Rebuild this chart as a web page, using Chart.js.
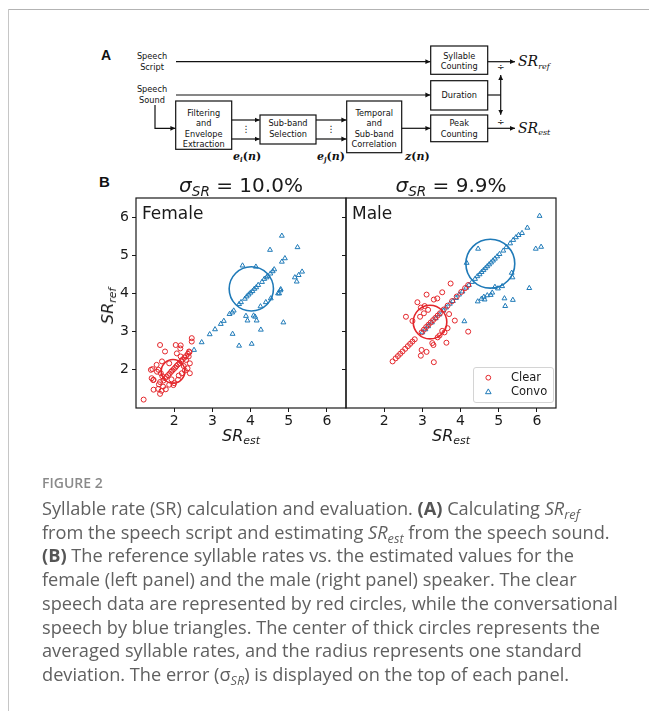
<!DOCTYPE html>
<html>
<head>
<meta charset="utf-8">
<script src="https://cdn.jsdelivr.net/npm/chart.js@4.4.1/dist/chart.umd.min.js"></script>
<style>
  html, body { margin: 0; padding: 0; background: #fff; }
  #page { position: relative; width: 649px; height: 711px; overflow: hidden; background: #fff; }
  canvas { position: absolute; left: 0; top: 0; }
  .rule-top { position: absolute; left: 8px; top: 9px; width: 641px; height: 1px; background: #b3b3b3; }
  .rule-left { position: absolute; left: 8px; top: 9px; width: 1px; height: 702px; background: #c6c6c6; }
  .lbl { position: absolute; white-space: nowrap; color: #1a1a1a; font-family: "DejaVu Sans", sans-serif; transform: translate(-50%, -50%); line-height: 1; }
  .ttl { font-size: 20px; }
  .ttl sub, .axl sub { font-size: 0.68em; vertical-align: baseline; position: relative; top: 0.3em; line-height: 0; }
  .axl { font-size: 16px; }
  .spk { position: absolute; font-family: "DejaVu Sans", sans-serif; font-size: 17px; color: #1a1a1a; line-height: 1; white-space: nowrap; }
  .legend { position: absolute; left: 473px; top: 367px; width: 81px; height: 36px; border: 1px solid #d4d4d4; border-radius: 3px; background: rgba(255,255,255,0.85); box-sizing: border-box; }
  .legtxt { position: absolute; font-family: "DejaVu Sans", sans-serif; font-size: 11.5px; color: #1a1a1a; line-height: 1; white-space: nowrap; transform: translateY(-50%); }
  #fig { position: absolute; left: 42px; top: 474px; font-family: "Open Sans", sans-serif; font-weight: 600; font-size: 14px; line-height: 18px; color: #8a8a8a; }
  #cap { position: absolute; left: 42px; top: 497px; font-family: "Open Sans", sans-serif; font-size: 18.2px; line-height: 23.7px; color: #606060; white-space: nowrap; }
  #cap b { font-weight: 700; color: #555; }
  #cap sub { font-size: 0.7em; vertical-align: baseline; position: relative; top: 0.3em; line-height: 0; }
</style>
</head>
<body>
<div id="page">
  <div class="rule-top"></div>
  <div class="rule-left"></div>

  <!-- processing pipeline -->
  <svg width="649" height="711" style="position:absolute;left:0;top:0" font-family="DejaVu Sans, sans-serif">
    <defs>
      <marker id="ah" markerUnits="userSpaceOnUse" markerWidth="6" markerHeight="6" refX="5" refY="3" orient="auto">
        <path d="M0,0.6 L5,3 L0,5.4 z" fill="#111"/>
      </marker>
    </defs>
    <text x="101" y="60" font-family="Liberation Sans, Arial, sans-serif" font-weight="bold" font-size="14" fill="#111">A</text>
    <g stroke="#111" stroke-width="1.2" fill="none">
      <line x1="176" y1="61.7" x2="430.4" y2="61.7" marker-end="url(#ah)"/>
      <rect x="430.7" y="46" width="57" height="28.3"/>
      <line x1="487.7" y1="61.7" x2="515" y2="61.7" marker-end="url(#ah)"/>
      <line x1="176" y1="95" x2="430.4" y2="95" marker-end="url(#ah)"/>
      <rect x="430.7" y="80.7" width="57" height="29.3"/>
      <polyline points="487.7,95 500.7,95"/>
      <line x1="500.7" y1="95" x2="500.7" y2="75" marker-end="url(#ah)"/>
      <line x1="500.7" y1="95" x2="500.7" y2="114.8" marker-end="url(#ah)"/>
      <rect x="430.7" y="115" width="57" height="26.7"/>
      <line x1="487.7" y1="128.3" x2="515" y2="128.3" marker-end="url(#ah)"/>
      <polyline points="155,105 155,128.3 175.4,128.3" marker-end="url(#ah)"/>
      <rect x="175.7" y="101" width="56" height="48.3"/>
      <line x1="231.7" y1="120" x2="259.7" y2="120" marker-end="url(#ah)"/>
      <line x1="231.7" y1="139" x2="259.7" y2="139" marker-end="url(#ah)"/>
      <rect x="260" y="115" width="56" height="29"/>
      <line x1="316" y1="120" x2="346.4" y2="120" marker-end="url(#ah)"/>
      <line x1="316" y1="139" x2="346.4" y2="139" marker-end="url(#ah)"/>
      <rect x="346.7" y="101" width="55" height="51.7"/>
      <line x1="401.7" y1="128.3" x2="430.4" y2="128.3" marker-end="url(#ah)"/>
    </g>
    <g fill="#111" font-size="8.2" text-anchor="middle">
      <text x="152" y="59">Speech</text>
      <text x="152" y="69.5">Script</text>
      <text x="152" y="92">Speech</text>
      <text x="152" y="102.5">Sound</text>
      <text x="459.2" y="58.5">Syllable</text>
      <text x="459.2" y="69">Counting</text>
      <text x="459.2" y="98">Duration</text>
      <text x="459.2" y="125.5">Peak</text>
      <text x="459.2" y="136.5">Counting</text>
      <text x="203.7" y="115.5">Filtering</text>
      <text x="203.7" y="126">and</text>
      <text x="203.7" y="136.5">Envelope</text>
      <text x="203.7" y="147">Extraction</text>
      <text x="288" y="125.5">Sub-band</text>
      <text x="288" y="136.5">Selection</text>
      <text x="374.2" y="115.5">Temporal</text>
      <text x="374.2" y="126">and</text>
      <text x="374.2" y="136.5">Sub-band</text>
      <text x="374.2" y="147">Correlation</text>
      <text x="246" y="132" font-size="9">⋮</text>
      <text x="331" y="132" font-size="9">⋮</text>
      <text x="500.7" y="70" font-size="9">÷</text>
      <text x="500.7" y="125" font-size="9">÷</text>
    </g>
    <g fill="#111" font-family="DejaVu Serif, serif" font-style="italic">
      <text x="518" y="66" font-size="14">SR<tspan font-size="8" dy="2.5">ref</tspan></text>
      <text x="518" y="132.5" font-size="14">SR<tspan font-size="8" dy="2.5">est</tspan></text>
      <text x="233" y="159.5" font-size="11" font-weight="bold">e<tspan font-size="7" dy="2">i</tspan><tspan dy="-2" font-style="normal">(</tspan>n<tspan font-style="normal">)</tspan></text>
      <text x="317" y="159.5" font-size="11" font-weight="bold">e<tspan font-size="7" dy="2">j</tspan><tspan dy="-2" font-style="normal">(</tspan>n<tspan font-style="normal">)</tspan></text>
      <text x="405" y="159.5" font-size="11" font-weight="bold">z<tspan font-style="normal">(</tspan>n<tspan font-style="normal">)</tspan></text>
    </g>
    <text x="99" y="187" font-family="Liberation Sans, Arial, sans-serif" font-weight="bold" font-size="15" fill="#111">B</text>
  </svg>

  <canvas id="female" width="649" height="711"></canvas>
  <canvas id="male" width="649" height="711"></canvas>

  <div class="lbl ttl" style="left:241px;top:185px;"><i>σ</i><sub><i>SR</i></sub> = 10.0%</div>
  <div class="lbl ttl" style="left:451px;top:185px;"><i>σ</i><sub><i>SR</i></sub> = 9.9%</div>
  <div class="spk" style="left:142px;top:205px;">Female</div>
  <div class="spk" style="left:352px;top:205px;">Male</div>
  <div class="lbl axl" style="left:241px;top:436px;"><i>SR</i><sub><i>est</i></sub></div>
  <div class="lbl axl" style="left:451px;top:436px;"><i>SR</i><sub><i>est</i></sub></div>
  <div class="lbl axl" style="left:108px;top:306px;transform:translate(-50%,-50%) rotate(-90deg);"><i>SR</i><sub><i>ref</i></sub></div>

  <div class="legend"></div>
  <svg width="649" height="711" style="position:absolute;left:0;top:0;pointer-events:none">
    <circle cx="488.3" cy="377.7" r="2.4" fill="none" stroke="#e3262b" stroke-width="1"/>
    <path d="M488.3,388.9 L491.1,393.7 L485.5,393.7 Z" fill="none" stroke="#1f7ab8" stroke-width="1"/>
  </svg>
  <div class="legtxt" style="left:511px;top:378px;">Clear</div>
  <div class="legtxt" style="left:511px;top:392px;">Convo</div>

  <div id="fig">FIGURE 2</div>
  <div id="cap">Syllable rate (SR) calculation and evaluation. <b>(A)</b> Calculating <i>SR<sub>ref</sub></i><br>from the speech script and estimating <i>SR<sub>est</sub></i> from the speech sound.<br><b>(B)</b> The reference syllable rates vs. the estimated values for the<br>female (left panel) and the male (right panel) speaker. The clear<br>speech data are represented by red circles, while the conversational<br>speech by blue triangles. The center of thick circles represents the<br>averaged syllable rates, and the radius represents one standard<br>deviation. The error (σ<sub><i>SR</i></sub>) is displayed on the top of each panel.</div>
</div>

<script>
// Axis range and tick labels shared by both panels
const axisMin = 1;
const axisMax = 6.5;
const tickValues = [2, 3, 4, 5, 6];

// [SR_est, SR_ref] pairs — female speaker, clear speech
const femaleClear = [
  [1.72,1.72],[1.76,1.78],[1.80,1.82],[1.84,1.86],[1.88,1.90],[1.92,1.95],[1.95,1.98],[1.99,2.02],
  [2.03,2.06],[2.06,2.10],[2.10,2.14],[2.14,2.18],[2.18,2.22],[2.22,2.27],[2.27,2.32],[2.31,2.36],
  [2.36,2.42],[2.40,2.46],
  [1.20,1.22],[1.46,1.48],[1.63,1.37],[1.39,2.00],[1.43,2.02],[1.41,1.78],[1.46,1.74],[1.63,2.65],
  [1.76,2.48],[1.59,2.00],[1.65,1.91],[1.69,1.83],[1.63,1.68],[1.71,1.56],[1.78,1.49],[1.87,1.61],
  [2.04,2.65],[2.17,2.64],[2.46,2.83],[2.46,2.74],[2.39,2.48],[2.38,2.35],[2.41,2.17],[2.31,2.26],
  [2.35,2.04],[2.20,1.91],[2.10,1.74],[2.00,1.65],[1.54,2.13],[1.68,2.22],[1.87,2.17],[2.17,2.35],
  [1.45,1.73],[1.58,1.50],[1.67,1.45],[1.98,1.60],[2.41,1.91],[2.16,2.56],[2.07,2.43],[1.60,1.62],
  [1.55,1.95],[2.25,2.10],[2.28,1.98],[1.93,1.75],[2.12,1.85]
];

// Female speaker, conversational speech
const femaleConvo = [
  [2.52,2.52],[2.72,2.72],[2.93,2.93],[3.07,3.06],[3.22,3.20],[3.30,3.28],[3.45,3.46],[3.52,3.50],
  [3.56,3.55],[3.70,3.72],[3.75,3.77],[3.85,3.86],[3.90,3.92],[3.95,3.97],[4.00,4.02],[4.05,4.06],
  [4.10,4.12],[4.15,4.16],[4.20,4.22],[4.30,4.30],[4.36,4.38],[4.42,4.42],[4.45,4.46],[4.52,4.52],
  [4.58,4.58],[4.62,4.63],
  [4.82,5.51],[4.51,5.14],[5.23,5.21],[4.82,4.83],[4.90,4.92],[3.79,4.73],[4.14,4.70],[5.16,4.42],
  [5.26,4.48],[5.35,4.57],[5.21,4.31],[4.79,4.11],[4.75,4.00],[4.53,3.87],[4.40,3.77],[4.26,3.66],
  [3.88,3.41],[3.92,3.29],[4.08,3.42],[4.12,3.39],[4.16,3.29],[4.27,3.05],[4.86,3.24],[3.53,2.94],
  [3.70,2.63],[4.03,2.68],[4.72,4.00],[4.78,4.08]
];

// Male speaker, clear speech
const maleClear = [
  [2.22,2.22],[2.30,2.30],[2.36,2.36],[2.42,2.42],[2.48,2.48],[2.55,2.55],[2.62,2.62],[2.68,2.68],
  [2.74,2.74],[2.80,2.80],[2.98,2.98],[3.04,3.05],[3.10,3.12],[3.16,3.18],[3.22,3.24],[3.28,3.30],
  [3.34,3.36],[3.40,3.42],[3.46,3.48],[3.56,3.58],[3.66,3.68],[3.78,3.80],[3.90,3.92],[4.02,4.04],
  [4.12,4.14],[4.20,4.22],
  [2.87,3.77],[3.11,3.97],[3.30,3.84],[3.39,3.87],[3.74,4.26],[3.52,4.03],[2.96,3.63],[2.57,3.39],
  [2.74,3.28],[2.94,3.39],[3.04,3.48],[3.15,3.57],[3.06,3.67],[3.85,3.29],[4.20,3.00],[3.45,2.90],
  [3.26,2.70],[3.63,2.71],[3.52,3.02],[2.98,2.52],[3.11,2.47],[2.96,2.37],[3.30,2.20],[3.70,3.46],
  [3.66,3.09],[3.29,2.65],[3.40,2.85],[3.58,2.98]
];

// Male speaker, conversational speech
const maleConvo = [
  [3.00,2.98],[3.08,3.06],[3.15,3.14],[3.25,3.24],[3.35,3.35],[3.45,3.45],[3.55,3.55],[3.62,3.63],
  [3.72,3.73],[3.80,3.80],[3.88,3.88],[3.96,3.97],[4.05,4.05],[4.15,4.15],[4.22,4.22],[4.30,4.30],
  [4.38,4.38],[4.44,4.45],[4.50,4.50],[4.55,4.56],[4.60,4.61],[4.65,4.66],[4.70,4.71],[4.75,4.76],
  [4.80,4.81],[4.85,4.86],[4.90,4.91],[4.96,4.97],[5.02,5.03],[5.12,5.12],[5.20,5.21],[5.30,5.31],
  [5.38,5.40],[5.45,5.47],[5.52,5.53],[5.61,5.58],[5.75,5.72],
  [6.07,6.03],[5.97,5.17],[6.11,5.22],[4.46,5.17],[4.16,4.80],[5.80,4.14],[5.34,4.54],[5.36,4.42],
  [4.90,4.17],[5.09,4.19],[4.98,4.13],[4.83,4.02],[4.79,3.96],[4.61,3.91],[4.63,3.84],[4.55,3.86],
  [4.45,3.79],[5.15,3.87],[5.17,3.67],[5.37,3.83],[4.10,3.27],[4.70,3.95]
];

// Mean [SR_est, SR_ref] and one standard deviation for each group
const femaleClearMean = [1.97, 1.96];
const femaleClearSd = 0.31;
const femaleConvoMean = [4.02, 4.12];
const femaleConvoSd = 0.58;
const maleClearMean = [3.20, 3.25];
const maleClearSd = 0.44;
const maleConvoMean = [4.78, 4.78];
const maleConvoSd = 0.64;

const RED = '#e3262b';
const BLUE = '#1f7ab8';
const INK = '#1a1a1a';

const toPoints = pairs => pairs.map(([x, y]) => ({ x, y }));

// Frame around the plot area plus the mean ± SD circles, sized through the scales
const panelDecor = {
  id: 'panelDecor',
  afterDatasetsDraw(chart, args, opts) {
    const { ctx, chartArea: a, scales: { x, y } } = chart;
    ctx.save();
    ctx.beginPath();
    ctx.rect(a.left, a.top, a.right - a.left, a.bottom - a.top);
    ctx.clip();
    (opts.circles || []).forEach(c => {
      const cx = x.getPixelForValue(c.center[0]);
      const cy = y.getPixelForValue(c.center[1]);
      const r = x.getPixelForValue(c.center[0] + c.sd) - cx;
      ctx.beginPath();
      ctx.arc(cx, cy, r, 0, Math.PI * 2);
      ctx.lineWidth = 1.6;
      ctx.strokeStyle = c.color;
      ctx.stroke();
    });
    ctx.restore();
    ctx.save();
    ctx.strokeStyle = INK;
    ctx.lineWidth = 1.2;
    ctx.strokeRect(a.left, a.top, a.right - a.left, a.bottom - a.top);
    ctx.restore();
  }
};

function axisOptions(isY, showLabels) {
  return {
    type: 'linear',
    min: axisMin,
    max: axisMax,
    afterBuildTicks: s => { s.ticks = tickValues.map(v => ({ value: v })); },
    afterFit: s => { if (isY) s.width = 40; else s.height = 40; },
    grid: { display: true, drawOnChartArea: false, drawTicks: true, tickLength: 4, color: INK, lineWidth: 1 },
    border: { display: false },
    ticks: {
      color: INK,
      padding: isY ? 3 : 1,
      maxRotation: 0,
      autoSkip: false,
      font: { family: 'DejaVu Sans', size: 14 },
      callback: v => (showLabels ? String(v) : '')
    }
  };
}

function makePanel(id, clear, convo, circles, padding, showYLabels) {
  return new Chart(document.getElementById(id), {
    type: 'scatter',
    data: {
      datasets: [
        { label: 'Clear', data: toPoints(clear), pointStyle: 'circle', pointRadius: 2.5,
          borderColor: RED, backgroundColor: 'rgba(0,0,0,0)', borderWidth: 1 },
        { label: 'Convo', data: toPoints(convo), pointStyle: 'triangle', pointRadius: 2.8,
          borderColor: BLUE, backgroundColor: 'rgba(0,0,0,0)', borderWidth: 1 }
      ]
    },
    options: {
      responsive: false,
      animation: false,
      devicePixelRatio: 1,
      layout: { padding },
      plugins: {
        legend: { display: false },
        tooltip: { enabled: false },
        panelDecor: { circles }
      },
      scales: {
        x: axisOptions(false, true),
        y: axisOptions(true, showYLabels)
      }
    },
    plugins: [panelDecor]
  });
}

makePanel('female', femaleClear, femaleConvo, [
  { center: femaleClearMean, sd: femaleClearSd, color: RED },
  { center: femaleConvoMean, sd: femaleConvoSd, color: BLUE }
], { left: 96, right: 303, top: 198, bottom: 263 }, true);

makePanel('male', maleClear, maleConvo, [
  { center: maleClearMean, sd: maleClearSd, color: RED },
  { center: maleConvoMean, sd: maleConvoSd, color: BLUE }
], { left: 306, right: 93, top: 198, bottom: 263 }, false);
</script>
</body>
</html>
